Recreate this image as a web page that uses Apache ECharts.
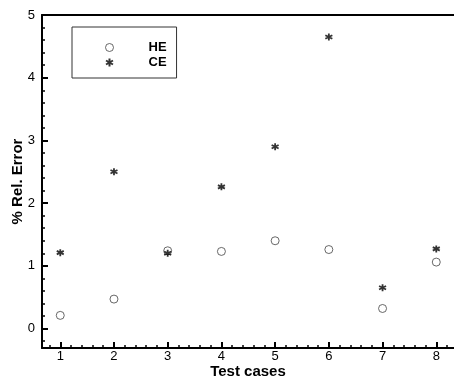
<!DOCTYPE html>
<html>
<head>
<meta charset="utf-8">
<script src="https://cdn.jsdelivr.net/npm/echarts@6/dist/echarts.min.js"></script>
<style>
  html, body { margin: 0; padding: 0; background: #fff; }
  #chart { width: 454px; height: 377px; }
</style>
</head>
<body>
<div id="chart"></div>
<script>
// test case numbers and relative errors (%)
const cases = [1, 2, 3, 4, 5, 6, 7, 8]
const heErr = [0.21, 0.47, 1.24, 1.23, 1.40, 1.26, 0.32, 1.06]
const ceErr = [1.21, 2.50, 1.20, 2.26, 2.90, 4.65, 0.65, 1.27]
const xTicks = [1, 2, 3, 4, 5, 6, 7, 8]
const yTicks = [0, 1, 2, 3, 4, 5]

const font = 'Liberation Sans, Arial, sans-serif'
const starPath = 'path://M0,-1L0,1M-0.87,-0.5L0.87,0.5M-0.87,0.5L0.87,-0.5'

// minor ticks every 0.2 between majors
function minors(from, to) {
  const out = []
  for (let i = Math.ceil(from * 5); i <= Math.floor(to * 5); i++) {
    if (i % 5 !== 0) out.push(i / 5)
  }
  return out
}

const xMin = 0.66, xMax = 8.33, yMin = -0.31, yMax = 5

const chart = echarts.init(document.getElementById('chart'))
chart.setOption({
  animation: false,
  grid: { left: 42, right: 0, top: 15, bottom: 29, outerBoundsMode: 'none', containLabel: false },
  legend: {
    orient: 'vertical',
    left: 72,
    top: 27,
    padding: [13, 10, 8, 33],
    itemGap: 0,
    itemWidth: 10,
    itemHeight: 8,
    borderColor: '#333',
    borderWidth: 1,
    textStyle: { fontFamily: font, fontSize: 13, fontWeight: 'bold', color: '#000', padding: [0, 0, 0, 29], lineHeight: 15 },
    data: [{ name: 'HE', itemStyle: { borderWidth: 1 } }, 'CE']
  },
  xAxis: [
    {
      type: 'value', min: xMin, max: xMax, position: 'bottom',
      axisLine: { onZero: false, lineStyle: { color: '#000', width: 2 } },
      axisTick: { inside: true, length: 6, customValues: xTicks, lineStyle: { color: '#000', width: 2 } },
      axisLabel: { customValues: xTicks, fontFamily: font, fontSize: 13, color: '#000', margin: 2 },
      splitLine: { show: false },
      name: 'Test cases', nameLocation: 'middle', nameGap: 16, nameMoveOverlap: false,
      nameTextStyle: { fontFamily: font, fontSize: 15, fontWeight: 'bold', color: '#000' }
    },
    {
      type: 'value', min: xMin, max: xMax, position: 'bottom',
      axisLine: { show: false, onZero: false },
      axisTick: { inside: true, length: 3, customValues: minors(xMin, xMax), lineStyle: { color: '#000', width: 1.5 } },
      axisLabel: { show: false },
      splitLine: { show: false }
    },
    {
      type: 'value', min: xMin, max: xMax, position: 'top',
      axisLine: { onZero: false, lineStyle: { color: '#000', width: 2 } },
      axisTick: { show: false },
      axisLabel: { show: false },
      splitLine: { show: false }
    }
  ],
  yAxis: [
    {
      type: 'value', min: yMin, max: yMax, position: 'left',
      axisLine: { show: true, onZero: false, lineStyle: { color: '#000', width: 2 } },
      axisTick: { show: true, inside: true, length: 6, customValues: yTicks, lineStyle: { color: '#000', width: 2 } },
      axisLabel: { customValues: yTicks, fontFamily: font, fontSize: 13, color: '#000', margin: 7 },
      splitLine: { show: false },
      name: '% Rel. Error', nameLocation: 'middle', nameGap: 17, nameMoveOverlap: false,
      nameTextStyle: { fontFamily: font, fontSize: 15, fontWeight: 'bold', color: '#000' }
    },
    {
      type: 'value', min: yMin, max: yMax, position: 'left',
      axisLine: { show: false, onZero: false },
      axisTick: { show: true, inside: true, length: 3, customValues: minors(yMin, yMax), lineStyle: { color: '#000', width: 1.5 } },
      axisLabel: { show: false },
      splitLine: { show: false }
    }
  ],
  series: [
    {
      name: 'HE',
      type: 'scatter',
      symbol: 'circle',
      symbolSize: 8,
      itemStyle: { color: '#fff', borderColor: '#444', borderWidth: 1 },
      data: cases.map((c, i) => [c, heErr[i]])
    },
    {
      name: 'CE',
      type: 'scatter',
      symbol: starPath,
      symbolSize: 7,
      itemStyle: { color: '#000', borderColor: '#000', borderWidth: 1.8 },
      data: cases.map((c, i) => [c, ceErr[i]])
    }
  ]
})
</script>
</body>
</html>
